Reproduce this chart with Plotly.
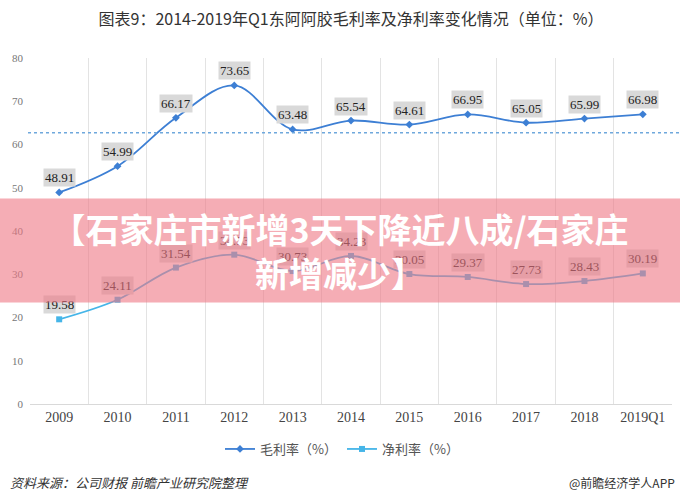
import plotly.graph_objects as go

categories = ["2009", "2010", "2011", "2012", "2013", "2014", "2015", "2016", "2017", "2018", "2019Q1"]
gross_margin = [48.91, 54.99, 66.17, 73.65, 63.48, 65.54, 64.61, 66.95, 65.05, 65.99, 66.98]
net_margin = [19.58, 24.11, 31.54, 34.53, 30.73, 34.23, 30.05, 29.37, 27.73, 28.43, 30.19]
ref_line_value = 62.7
y_ticks = [0, 10, 20, 30, 40, 50, 60, 70, 80]

title_text = "图表9：2014-2019年Q1东阿阿胶毛利率及净利率变化情况（单位：%）"
gross_name = "毛利率（%）"
net_name = "净利率（%）"
source_text = "资料来源：公司财报 前瞻产业研究院整理"
brand_text = "@前瞻经济学人APP"
banner_text = "<b>【石家庄市新增3天下降近八成/石家庄<br>新增减少】</b>"

W, H = 680, 502
ML, MR, MT, MB = 30, 8, 58, 98
PW = W - ML - MR
PH = H - MT - MB

def px_x(p):
    return (p - ML) / PW

def px_y(p):
    return (H - MB - p) / PH

gross_color = "#3d7fd4"
net_color = "#45b5e8"

fig = go.Figure()
fig.add_trace(go.Scatter(
    x=categories, y=gross_margin, name=gross_name, mode="lines+markers",
    line=dict(color=gross_color, width=1.8, shape="spline", smoothing=1.0),
    marker=dict(symbol="diamond", size=6, color=gross_color),
))
fig.add_trace(go.Scatter(
    x=categories, y=net_margin, name=net_name, mode="lines+markers",
    line=dict(color=net_color, width=1.8, shape="spline", smoothing=1.0),
    marker=dict(symbol="square", size=6, color=net_color),
))

annotations = []
for series in (gross_margin, net_margin):
    for i, v in enumerate(series):
        annotations.append(dict(
            x=i, y=v, xref="x", yref="y", text=f"{v:.2f}", showarrow=False,
            yanchor="bottom", yshift=5, bgcolor="#d9d9d9", borderpad=1,
            font=dict(family="Liberation Serif", size=13, color="#222"),
        ))

annotations.append(dict(
    x=px_x(8), y=px_y(482), xref="paper", yref="paper", xanchor="left", yanchor="middle",
    text=f"<i>{source_text}</i>", showarrow=False,
    font=dict(family="Noto Sans CJK SC", size=13, color="#333"),
))
annotations.append(dict(
    x=px_x(677), y=px_y(482), xref="paper", yref="paper", xanchor="right", yanchor="middle",
    text=brand_text, showarrow=False,
    font=dict(family="Noto Sans CJK SC", size=12, color="#333"),
))
# overlay banner (drawn last, above labels)
annotations.append(dict(
    x=px_x(W / 2), y=px_y(250.5), xref="paper", yref="paper", xanchor="center", yanchor="middle",
    text=banner_text, showarrow=False, width=W + 4, height=103, align="center",
    bgcolor="rgba(238,118,132,0.6)", borderpad=0,
    font=dict(family="Noto Sans CJK SC", size=34, color="white"),
))

fig.update_layout(
    width=W, height=H,
    margin=dict(l=ML, r=MR, t=MT, b=MB),
    paper_bgcolor="white", plot_bgcolor="white",
    title=dict(text=title_text, x=0.5, xref="paper", xanchor="center",
               y=1 - 19 / H, yref="container", yanchor="middle",
               font=dict(family="Noto Sans CJK SC", size=16, color="#333")),
    showlegend=True,
    legend=dict(orientation="h", x=px_x(342), xanchor="center", y=px_y(449), yanchor="middle",
                font=dict(family="Noto Sans CJK SC", size=13, color="#555"),
                itemwidth=30, tracegroupgap=0),
    annotations=annotations,
    shapes=[dict(type="line", xref="paper", yref="y", x0=px_x(28), x1=px_x(680),
                 y0=ref_line_value, y1=ref_line_value,
                 line=dict(color="#6fa8dc", width=1.5, dash="dot"))],
)
fig.update_xaxes(type="category", range=[-0.5, len(categories) - 0.5],
                 tickson="boundaries", showgrid=True, gridcolor="#e3e3e3", gridwidth=1,
                 showline=True, linecolor="#d9d9d9", ticks="",
                 tickfont=dict(family="Liberation Serif", size=14, color="#444"))
fig.update_yaxes(range=[0, 80], tickvals=y_ticks, showgrid=False, zeroline=False,
                 showline=False, ticks="", ticklabelstandoff=6,
                 tickfont=dict(family="Liberation Serif", size=11, color="#777"))

fig.write_html("out.html")
